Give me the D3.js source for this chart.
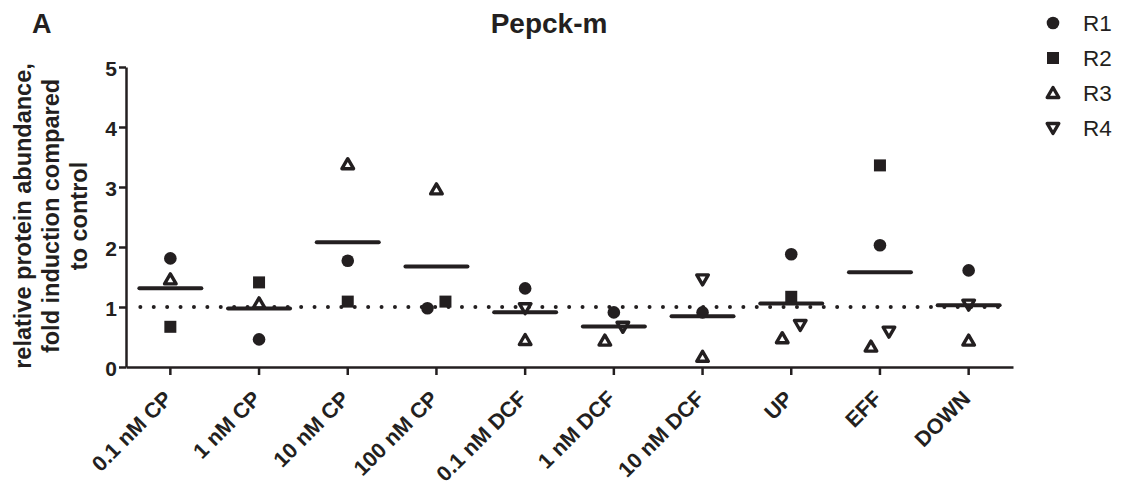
<html>
<head>
<style>
  body { margin: 0; background: #fff; }
  text { font-family: Arial, "Liberation Sans", sans-serif; fill: #231f20; }
</style>
</head>
<body>
<svg id="chart" width="1125" height="486"></svg>
<script src="https://d3js.org/d3.v7.min.js"></script>
<script>
// categories on the x axis
const categories = ['0.1 nM CP', '1 nM CP', '10 nM CP', '100 nM CP', '0.1 nM DCF',
  '1 nM DCF', '10 nM DCF', 'UP', 'EFF', 'DOWN']
// replicate values (null = no point)
const r1 = [1.81, 0.46, 1.77, 0.98, 1.31, 0.91, 0.91, 1.88, 2.03, 1.61]
const r2 = [0.67, 1.41, 1.09, 1.09, null, null, null, 1.17, 3.36, null]
const r3 = [1.46, 1.06, 3.38, 2.96, 0.45, 0.44, 0.17, 0.48, 0.34, 0.44]
const r4 = [null, null, null, null, 0.98, 0.67, 1.46, 0.70, 0.59, 1.04]
const seriesNames = ['R1', 'R2', 'R3', 'R4']
const yTicks = [0, 1, 2, 3, 4, 5]

const ink = '#231f20'
const font = 'Arial, "Liberation Sans", sans-serif'
const svg = d3.select('#chart')

const x = d3.scaleBand().domain(categories).range([126, 1013])
const y = d3.scaleLinear().domain([0, 5]).range([367, 67])

// axes
const yAxis = svg.append('g').attr('transform', 'translate(126,0)')
  .call(d3.axisLeft(y).tickValues(yTicks).tickFormat(d3.format('d')).tickSize(7).tickSizeOuter(0).tickPadding(2))
const xAxis = svg.append('g').attr('transform', 'translate(0,367)')
  .call(d3.axisBottom(x).tickSize(8).tickSizeOuter(0))
svg.selectAll('.domain, .tick line').attr('stroke', ink).attr('stroke-width', 2.5)
yAxis.selectAll('text').attr('font-size', 21).attr('font-weight', 'bold')
  .attr('font-family', font).attr('fill', ink).attr('dy', '0.4em')
xAxis.selectAll('text').attr('font-size', 21.5).attr('font-weight', 'bold')
  .attr('font-family', font).attr('fill', ink)
  .attr('text-anchor', 'end').attr('dy', 0).attr('y', 0)
  .attr('transform', 'translate(3,33) rotate(-45)')

// reference line at 1
svg.append('line')
  .attr('x1', x(categories[0]) + x.bandwidth() / 2 - 30)
  .attr('x2', x(categories[categories.length - 1]) + x.bandwidth() / 2 + 35)
  .attr('y1', y(1)).attr('y2', y(1))
  .attr('stroke', ink).attr('stroke-width', 4).attr('stroke-linecap', 'round')
  .attr('stroke-dasharray', '0 13.4')

// marker drawing
function drawMarker(g, name, cx, cy) {
  if (name === 'R1') {
    g.append('circle').attr('cx', cx).attr('cy', cy).attr('r', 6.3).attr('fill', ink)
  } else if (name === 'R2') {
    g.append('rect').attr('x', cx - 6).attr('y', cy - 6).attr('width', 12).attr('height', 12).attr('fill', ink)
  } else {
    const s = name === 'R3' ? 1 : -1
    const pts = [[cx, cy - 5.5 * s], [cx + 5.8, cy + 4.5 * s], [cx - 5.8, cy + 4.5 * s]]
    g.append('path').attr('d', d3.line()(pts) + 'Z')
      .attr('fill', '#fff').attr('stroke', ink).attr('stroke-width', 3.4).attr('stroke-linejoin', 'round')
  }
}

const series = [r1, r2, r3, r4]
const pointsG = svg.append('g')
const meanG = svg.append('g')
categories.forEach((c, i) => {
  const cx = x(c) + x.bandwidth() / 2
  let pts = []
  series.forEach((s, k) => { if (s[i] != null) pts.push({ name: seriesNames[k], v: s[i], dx: 0 }) })
  // spread close pairs sideways, like the scatter plot does
  const sorted = pts.slice().sort((a, b) => a.v - b.v)
  for (let j = 0; j < sorted.length - 1; j++) {
    if (Math.abs(y(sorted[j].v) - y(sorted[j + 1].v)) < 16) {
      sorted[j].dx = -9; sorted[j + 1].dx = 9; j++
    }
  }
  pts.forEach(p => drawMarker(pointsG, p.name, cx + p.dx, y(p.v)))
  const m = d3.mean(pts, p => p.v)
  meanG.append('line').attr('x1', cx - 31).attr('x2', cx + 31).attr('y1', y(m)).attr('y2', y(m))
    .attr('stroke', ink).attr('stroke-width', 4).attr('stroke-linecap', 'round')
})

// titles
svg.append('text').attr('x', 32).attr('y', 33).attr('font-size', 27).attr('font-weight', 'bold').text('A')
svg.append('text').attr('x', 549).attr('y', 33).attr('text-anchor', 'middle')
  .attr('font-size', 28).attr('font-weight', 'bold').text('Pepck-m')

const yTitle = ['relative protein abundance,', 'fold induction compared', 'to control']
const yt = svg.append('text').attr('transform', 'translate(31,216) rotate(-90)')
  .attr('text-anchor', 'middle').attr('font-size', 23.5).attr('font-weight', 'bold')
yTitle.forEach((t, i) => yt.append('tspan').attr('x', 0).attr('y', i * 28).text(t))

// legend
const legend = svg.append('g')
seriesNames.forEach((n, i) => {
  const ly = 23 + i * 35
  drawMarker(legend, n, 1053, ly)
  legend.append('text').attr('x', 1083).attr('y', ly + 8).attr('font-size', 22.5).text(n)
})
</script>
</body>
</html>
